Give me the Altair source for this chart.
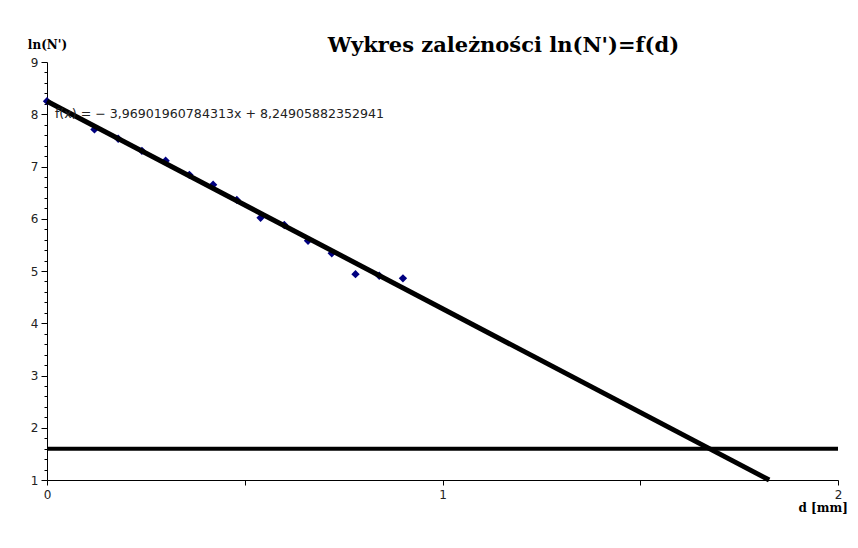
import altair as alt
import pandas as pd

# measured points
d_vals = [0.00, 0.12, 0.18, 0.24, 0.30, 0.36, 0.42, 0.48, 0.54, 0.60, 0.66, 0.72, 0.78, 0.84, 0.90]
ln_vals = [8.25, 7.71, 7.53, 7.30, 7.11, 6.84, 6.65, 6.36, 6.02, 5.88, 5.58, 5.34, 4.94, 4.91, 4.86]

# trend line f(x) = -3.969x + 8.249, drawn from d=0 to where it reaches 1
trend_d = [0.0, 1.826]
trend_ln = [8.249, 1.0]

# background level
bg_d = [0.0, 2.0]
bg_ln = [1.6, 1.6]

eq_text = ["f(x) = \u2212 3,96901960784313x + 8,24905882352941"]
eq_d = [0.02]
eq_ln = [8.0]

y_ticks = [round(1 + 0.2 * i, 1) for i in range(41)]
x_ticks = [0, 0.5, 1, 1.5, 2]

rows = []
for d, v in zip(d_vals, ln_vals):
    rows.append({"s": "pts", "d": d, "ln": v, "t": ""})
for d, v in zip(trend_d, trend_ln):
    rows.append({"s": "trend", "d": d, "ln": v, "t": ""})
for d, v in zip(bg_d, bg_ln):
    rows.append({"s": "bg", "d": d, "ln": v, "t": ""})
for d, v, t in zip(eq_d, eq_ln, eq_text):
    rows.append({"s": "eq", "d": d, "ln": v, "t": t})
df = pd.DataFrame(rows)

is_int = "abs(datum.value - round(datum.value)) < 0.001"

xs = alt.Scale(domain=[0, 2], nice=False, zero=False)
ys = alt.Scale(domain=[1, 9], nice=False, zero=False)

x_axis = alt.Axis(
    values=x_ticks, grid=False, domainColor="black", tickColor="black",
    ticks=True, tickSize=5, tickWidth=1, format="~g",
    labelExpr=f"({is_int}) ? datum.label : ''",
    labelFont="DejaVu Sans", labelFontSize=12, labelColor="#222", labelOverlap=False,
    labelPadding=4, title="d [mm]", titleFont="DejaVu Serif", titleFontSize=12,
    titleFontWeight="bold", titleX=751, titleY=27, titleAlign="left",
    titleBaseline="middle", titleColor="black", labelFlush=False,
)
y_axis = alt.Axis(
    values=y_ticks, grid=False, domainColor="black", tickColor="black",
    ticks=True, tickWidth=1, format="~g",
    tickSize={"condition": {"test": is_int, "value": 6}, "value": 3},
    labelExpr=f"({is_int}) ? datum.label : ''", labelOverlap=False,
    labelFont="DejaVu Sans", labelFontSize=12, labelColor="#222",
    labelPadding=3, title="ln(N')", titleFont="DejaVu Serif", titleFontSize=12,
    titleFontWeight="bold", titleAngle=0, titleX=0, titleY=-18,
    titleAlign="center", titleBaseline="middle", titleColor="black",
)

base = alt.Chart(df).encode(
    x=alt.X("d:Q", scale=xs, axis=x_axis),
    y=alt.Y("ln:Q", scale=ys, axis=y_axis),
)

bg_line = base.transform_filter("datum.s === 'bg'").mark_line(color="black", strokeWidth=4)
points = base.transform_filter("datum.s === 'pts'").mark_point(
    shape="diamond", filled=True, color="#000080", size=70, opacity=1)
trend_line = base.transform_filter("datum.s === 'trend'").mark_line(color="black", strokeWidth=5)
eq_label = base.transform_filter("datum.s === 'eq'").mark_text(
    align="left", baseline="middle", font="DejaVu Sans", fontSize=12.6, color="#222"
).encode(text="t:N")

chart = alt.layer(bg_line, points, trend_line, eq_label).properties(
    width=791, height=418,
    title=alt.TitleParams("Wykres zale\u017cno\u015bci ln(N')=f(d)", font="DejaVu Serif",
                          fontSize=21, fontWeight="bold", color="black", anchor="middle", dx=61, dy=22),
    autosize=alt.AutoSizeParams(type="none"),
    padding={"left": 39, "top": 54, "right": 11, "bottom": 50},
    background="white",
).configure_view(stroke=None).configure_axis(labelOverlap=False)

chart.save("out.html", embed_options={"renderer": "svg", "actions": False})
